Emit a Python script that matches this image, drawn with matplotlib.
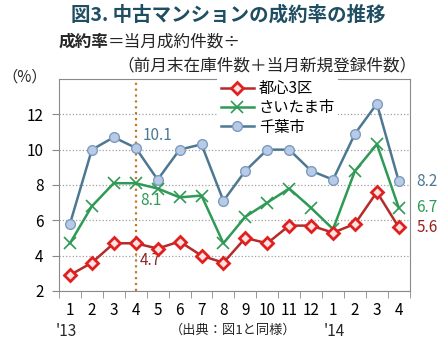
import numpy as np
import matplotlib
matplotlib.use('Agg')
import matplotlib.pyplot as plt

plt.rcParams['font.family'] = ['Noto Sans CJK JP', 'DejaVu Sans']

# 2013/1 - 2014/4
months = ['1', '2', '3', '4', '5', '6', '7', '8', '9', '10', '11', '12', '1', '2', '3', '4']
toshin3 = [2.9, 3.6, 4.7, 4.7, 4.4, 4.8, 4.0, 3.6, 5.0, 4.7, 5.7, 5.7, 5.3, 5.8, 7.6, 5.6]
saitama = [4.7, 6.8, 8.1, 8.1, 7.8, 7.3, 7.4, 4.7, 6.2, 7.0, 7.8, 6.7, 5.5, 8.8, 10.3, 6.7]
chiba = [5.8, 10.0, 10.7, 10.1, 8.3, 10.0, 10.3, 7.1, 8.8, 10.0, 10.0, 8.8, 8.3, 10.9, 12.6, 8.2]

c_red = '#b52a2a'
c_green = '#2f9a56'
c_blue = '#4d7891'

fig = plt.figure(figsize=(4.48, 3.51), dpi=100)
ax = fig.add_axes([0.1317, 0.171, 0.783, 0.604])

x = np.arange(len(months))
ax.plot(x, chiba, color=c_blue, lw=1.8, marker='o', markersize=7,
        markerfacecolor='#b7cbe8', markeredgecolor='#7e9bbd', markeredgewidth=1, label='千葉市', zorder=3)
ax.plot(x, saitama, color=c_green, lw=1.8, marker='x', markersize=8,
        markeredgewidth=1.2, label='さいたま市', zorder=3)
ax.plot(x, toshin3, color=c_red, lw=1.8, marker='D', markersize=6.5,
        markerfacecolor='#fbe3e3', markeredgecolor='#e01f1f', markeredgewidth=2, label='都心3区', zorder=4)

ax.axvline(3, color='#c07a2a', ls=':', lw=1.6, zorder=2)

ax.set_xlim(-0.5, 15.5)
ax.set_ylim(2, 14)
ax.set_yticks([2, 4, 6, 8, 10, 12])
ax.set_xticks(x)
ax.set_xticklabels(months)
ax.set_xticks(np.arange(-0.5, 16, 1), minor=True)
ax.tick_params(axis='x', which='major', length=0, pad=8, labelsize=11)
ax.tick_params(axis='x', which='minor', length=5, color='#888888', direction='out')
ax.tick_params(axis='y', length=5, color='#888888', labelsize=11, pad=6)
ax.grid(axis='y', ls=':', color='#a0a0a0', lw=0.9)
for s in ax.spines.values():
    s.set_color('#8a8a8a')

h, l = ax.get_legend_handles_labels()
leg = ax.legend(h[::-1], l[::-1], loc='upper left', bbox_to_anchor=(0.43, 1.045), frameon=True,
                facecolor='white', edgecolor='none', framealpha=1, fontsize=11,
                handlelength=2.2, handletextpad=0.3, labelspacing=0.15, borderpad=0.2)

# value labels
ax.text(3.3, chiba[3] + 0.7, '10.1', color=c_blue, fontsize=11, va='center', ha='left')
ax.text(3.2, saitama[3] - 1.0, '8.1', color=c_green, fontsize=11, va='center', ha='left')
ax.text(3.2, toshin3[3] - 1.0, '4.7', color='#8b2a2a', fontsize=11, va='center', ha='left')
ax.text(15.8, chiba[-1], '8.2', color=c_blue, fontsize=11, va='center', ha='left', clip_on=False)
ax.text(15.8, saitama[-1], '6.7', color=c_green, fontsize=11, va='center', ha='left', clip_on=False)
ax.text(15.8, toshin3[-1], '5.6', color='#9b1f1f', fontsize=11, va='center', ha='left', clip_on=False)

fig.text(0.51, 0.958, '図3. 中古マンションの成約率の推移', fontsize=14, fontweight='bold',
         color='#1f4e63', ha='center', va='center')
t1 = fig.text(0.13, 0.88, '成約率', fontsize=12, fontweight='bold', color='#262626', ha='left', va='center')
fig.canvas.draw()
bb = t1.get_window_extent().transformed(fig.transFigure.inverted())
fig.text(bb.x1, 0.88, '＝当月成約件数÷', fontsize=12, color='#262626', ha='left', va='center')
fig.text(0.262, 0.812, '（前月末在庫件数＋当月新規登録件数）', fontsize=12, color='#262626', ha='left', va='center')
fig.text(0.005, 0.78, '（%）', fontsize=11, color='#262626', ha='left', va='center')
fig.text(0.148, 0.055, "'13", fontsize=11, color='#262626', ha='center', va='center')
fig.text(0.745, 0.055, "'14", fontsize=11, color='#262626', ha='center', va='center')
fig.text(0.38, 0.06, '（出典：図1と同様）', fontsize=9.5, color='#262626', ha='left', va='center')

fig.savefig('out.png', dpi=100)
